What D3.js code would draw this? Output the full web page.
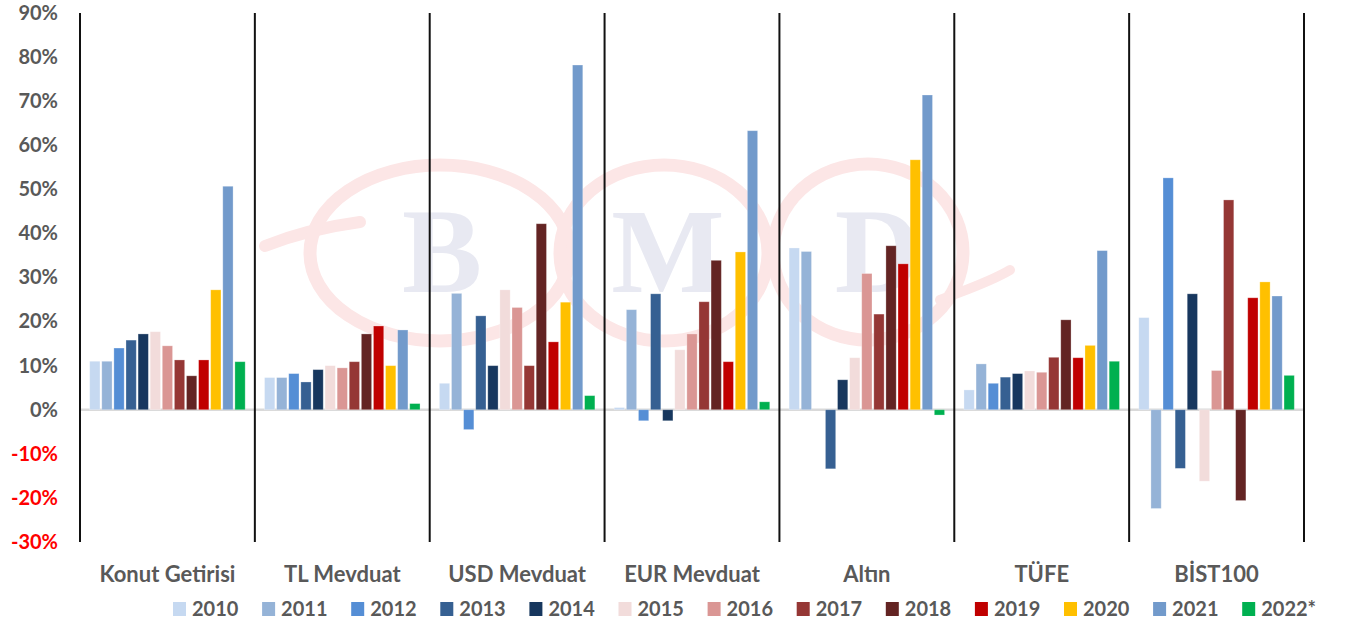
<!DOCTYPE html>
<html>
<head>
<meta charset="utf-8">
<script src="https://cdn.jsdelivr.net/npm/d3@7"></script>
<style>
  html, body { margin: 0; padding: 0; background: #ffffff; }
  svg { display: block; }
  text { font-family: Lato, "Open Sans", sans-serif; font-weight: 700; }
</style>
</head>
<body>
<svg id="chart" width="1345" height="622"></svg>
<script>
// ---- data ----
const categories = ["Konut Getirisi", "TL Mevduat", "USD Mevduat", "EUR Mevduat", "Altın", "TÜFE", "BİST100"];
const years = ["2010", "2011", "2012", "2013", "2014", "2015", "2016", "2017", "2018", "2019", "2020", "2021", "2022*"];
const yearColors = ["#c6d9f1", "#95b3d7", "#558ed5", "#366092", "#17375e", "#f2dcdb", "#da9694", "#953735", "#632423", "#c00000", "#ffc000", "#729acb", "#00b050"];
const konutGetirisi = [11.0, 11.0, 14.0, 15.8, 17.2, 17.7, 14.5, 11.3, 7.7, 11.3, 27.2, 50.7, 10.9];
const tlMevduat     = [7.3, 7.3, 8.2, 6.3, 9.1, 10.0, 9.5, 10.9, 17.2, 19.0, 10.0, 18.1, 1.4];
const usdMevduat    = [6.0, 26.4, -4.5, 21.3, 10.0, 27.2, 23.2, 10.0, 42.2, 15.4, 24.4, 78.2, 3.2];
const eurMevduat    = [0.5, 22.7, -2.5, 26.3, -2.5, 13.6, 17.2, 24.5, 33.9, 10.9, 35.8, 63.3, 1.8];
const altin         = [36.7, 35.9, 0.0, -13.4, 6.8, 11.8, 30.9, 21.7, 37.2, 33.1, 56.7, 71.4, -1.2];
const tufe          = [4.5, 10.4, 6.0, 7.4, 8.2, 8.8, 8.5, 11.9, 20.4, 11.8, 14.6, 36.1, 11.0];
const bist100       = [20.9, -22.4, 52.6, -13.3, 26.3, -16.2, 8.9, 47.6, -20.6, 25.4, 29.0, 25.8, 7.8];
const seriesByCategory = [konutGetirisi, tlMevduat, usdMevduat, eurMevduat, altin, tufe, bist100];
const yTicks = [90, 80, 70, 60, 50, 40, 30, 20, 10, 0, -10, -20, -30];

// ---- layout ----
const svg = d3.select("#chart");
const plotLeft = 80, plotRight = 1304, plotTop = 13, plotBottom = 542;
const textGray = "#595959";

const x0 = d3.scaleBand().domain(categories).range([plotLeft, plotRight]).padding(0);
const x1 = d3.scaleBand().domain(years).range([0, x0.bandwidth()]).paddingInner(0.15).paddingOuter(0.8);
const y = d3.scaleLinear().domain([-30, 90]).range([plotBottom, plotTop]);

// ---- watermark (faint logo) ----
const wm = svg.append("g").attr("class", "watermark");
const ringColor = "#fce6e6";
wm.append("path")
  .attr("d", "M265,246 C300,232 330,226 360,222")
  .attr("fill", "none").attr("stroke", ringColor).attr("stroke-width", 12).attr("stroke-linecap", "round");
wm.append("ellipse").attr("cx", 440).attr("cy", 253).attr("rx", 130).attr("ry", 88)
  .attr("fill", "none").attr("stroke", ringColor).attr("stroke-width", 13);
wm.append("ellipse").attr("cx", 664).attr("cy", 253).attr("rx", 104).attr("ry", 88)
  .attr("fill", "none").attr("stroke", ringColor).attr("stroke-width", 13);
wm.append("ellipse").attr("cx", 868).attr("cy", 252).attr("rx", 95).attr("ry", 88)
  .attr("fill", "none").attr("stroke", ringColor).attr("stroke-width", 13);
wm.append("path")
  .attr("d", "M940,300 C965,290 990,282 1010,270")
  .attr("fill", "none").attr("stroke", ringColor).attr("stroke-width", 10).attr("stroke-linecap", "round");
const letterColor = "#e8e9f2";
[["B", 442], ["M", 668], ["D", 878]].forEach(([t, cx]) => {
  wm.append("text").attr("x", cx).attr("y", 292).attr("text-anchor", "middle")
    .style("font-family", "'Liberation Serif', 'DejaVu Serif', serif")
    .style("font-weight", "700").style("font-size", "120px")
    .attr("fill", letterColor).text(t);
});

// ---- zero line ----
svg.append("line")
  .attr("x1", plotLeft).attr("x2", plotRight)
  .attr("y1", y(0)).attr("y2", y(0))
  .attr("stroke", "#d9d9d9").attr("stroke-width", 2.5);

// ---- bars ----
const groups = svg.append("g").selectAll("g")
  .data(categories)
  .join("g")
  .attr("transform", d => `translate(${x0(d)},0)`);

groups.selectAll("rect")
  .data((d, i) => seriesByCategory[i].map((v, j) => ({ year: years[j], value: v, color: yearColors[j] })))
  .join("rect")
  .attr("x", d => x1(d.year))
  .attr("width", x1.bandwidth())
  .attr("y", d => Math.min(y(d.value), y(0)))
  .attr("height", d => Math.abs(y(d.value) - y(0)))
  .attr("fill", d => d.color)
  .attr("stroke", "#ffffff").attr("stroke-opacity", 0.35).attr("stroke-width", 0.8);

// ---- group separators ----
const sepXs = categories.map(c => x0(c)).concat([plotRight]);
svg.append("g").selectAll("line")
  .data(sepXs)
  .join("line")
  .attr("x1", d => d).attr("x2", d => d)
  .attr("y1", plotTop).attr("y2", plotBottom)
  .attr("stroke", "#111111").attr("stroke-width", 2);

// ---- y axis labels ----
const yAxis = d3.axisLeft(y).tickValues(yTicks).tickFormat(d => d + "%").tickSize(0).tickPadding(0);
const yg = svg.append("g").attr("transform", "translate(58,0)").call(yAxis);
yg.select(".domain").remove();
yg.selectAll("text")
  .style("font-size", "20px")
  .style("font-family", "Lato, 'Open Sans', sans-serif")
  .style("font-weight", "700")
  .attr("fill", d => d < 0 ? "#ff0000" : textGray);

// ---- category labels ----
const xAxis = d3.axisBottom(x0).tickSize(0).tickPadding(0);
const xg = svg.append("g").attr("transform", "translate(0,566)").call(xAxis);
xg.select(".domain").remove();
xg.selectAll("text")
  .style("font-size", "22px")
  .style("font-family", "Lato, 'Open Sans', sans-serif")
  .style("font-weight", "700")
  .attr("fill", textGray);

// ---- legend ----
const legendStart = 173, legendStep = 89.1, legendY = 609;
const legend = svg.append("g").selectAll("g")
  .data(years)
  .join("g")
  .attr("transform", (d, i) => `translate(${legendStart + i * legendStep},${legendY})`);
legend.append("rect")
  .attr("x", 0).attr("y", -7).attr("width", 13).attr("height", 14)
  .attr("fill", (d, i) => yearColors[i]);
legend.append("text")
  .attr("x", 19).attr("y", 0).attr("dy", "0.36em")
  .style("font-size", "20px")
  .attr("fill", textGray)
  .text(d => d);
</script>
</body>
</html>
